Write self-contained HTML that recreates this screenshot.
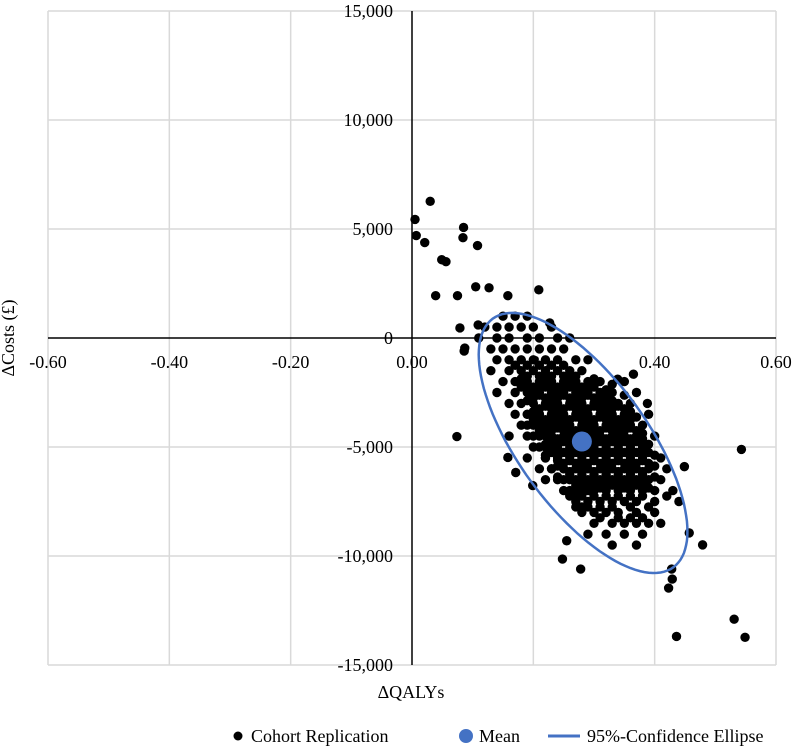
<!DOCTYPE html>
<html><head><meta charset="utf-8">
<style>
html,body{margin:0;padding:0;background:#fff;}
svg{display:block;font-family:"Liberation Serif",serif;}
</style></head>
<body>
<svg id="chart" width="796" height="755" viewBox="0 0 796 755">
<g id="grid"></g>
<g id="axes"></g>
<g id="points"></g>
<g id="overlay"></g>
<text x="14" y="338" font-size="18" text-anchor="middle" transform="rotate(-90 14 338)">ΔCosts (£)</text>
<text x="411" y="698" font-size="18" text-anchor="middle">ΔQALYs</text>
<g>
 <g>
  <circle cx="238" cy="736" r="4.5" fill="#000"/>
  <text x="251" y="742" font-size="18">Cohort Replication</text>
 </g>
 <g>
  <circle cx="466" cy="736" r="7" fill="#4472c4"/>
  <text x="479" y="742" font-size="18">Mean</text>
 </g>
 <g>
  <line x1="548" y1="736" x2="580" y2="736" stroke="#4472c4" stroke-width="3"/>
  <text x="587" y="742" font-size="18">95%-Confidence Ellipse</text>
 </g>
</g>
</svg>
<script>
const xTicks = [-0.6,-0.4,-0.2,0,0.2,0.4,0.6];
const xTickLabels = ["-0.60","-0.40","-0.20","0.00","0.20","0.40","0.60"];
const yTicks = [15000,10000,5000,0,-5000,-10000,-15000];
const yTickLabels = ["15,000","10,000","5,000","0","-5,000","-10,000","-15,000"];
const outlierX = [0.030,0.005,0.007,0.021,0.085,0.084,0.108,0.049,0.056,0.105,0.127,0.039,0.075,0.158,0.209,0.079,0.109,0.087,0.086,0.227,0.074,0.543,0.479,0.457,0.248,0.278,0.428,0.429,0.423,0.531,0.549,0.436,0.255,0.449,0.158,0.171,0.199,0.365,0.339,0.388];
const outlierY = [6270,5440,4700,4380,5070,4600,4240,3590,3500,2350,2300,1940,1940,1940,2210,460,600,-460,-600,690,-4520,-5110,-9490,-8940,-10140,-10600,-10600,-11060,-11470,-12900,-13730,-13690,-9300,-5900,-5480,-6170,-6770,-1660,-1890,-3000];
const coreRowY = [1000,500,0,-500,-1000,-1250,-1500,-1750,-2000,-2250,-2500,-2750,-3000,-3250,-3500,-3750,-4000,-4250,-4500,-4750,-5000,-5250,-5500,-5750,-6000,-6250,-6500,-6750,-7000,-7500,-8000,-8500,-9000,-9500,
 -1875,-2125,-2375,-2625,-2875,-3125,-3375,-3625,-3875,-4125,-4375,-4625,-4875,-5125,-5375,-5625,-5875,-6125,-6375,-6625,-6875,-7250,-7750,-8250,
 -3500,-4000,-4500,-5000,-5500,-6000,-6500,-7000,-7250,-7750];
const coreRowX = [
 [0.15,0.17,0.19],
 [0.12,0.14,0.16,0.18,0.20,0.23],
 [0.11,0.14,0.16,0.19,0.21,0.24,0.26],
 [0.13,0.15,0.17,0.19,0.21,0.23,0.25],
 [0.14,0.16,0.18,0.20,0.22,0.24,0.27,0.29],
 [0.17,0.19,0.21,0.23,0.25],
 [0.13,0.16,0.18,0.20,0.22,0.24,0.26,0.28],
 [0.19,0.21,0.23,0.25,0.27],
 [0.15,0.17,0.19,0.21,0.23,0.25,0.27,0.29,0.31,0.35],
 [0.18,0.20,0.22,0.24,0.26,0.28,0.30],
 [0.14,0.17,0.19,0.21,0.23,0.25,0.27,0.29,0.31,0.33,0.37],
 [0.20,0.22,0.24,0.26,0.28,0.30,0.32],
 [0.16,0.18,0.20,0.22,0.24,0.26,0.28,0.30,0.32,0.34,0.36],
 [0.21,0.23,0.25,0.27,0.29,0.31,0.33,0.35],
 [0.17,0.19,0.21,0.23,0.25,0.27,0.29,0.31,0.33,0.35,0.39],
 [0.20,0.22,0.24,0.26,0.28,0.30,0.32,0.34,0.36],
 [0.18,0.20,0.22,0.24,0.26,0.28,0.30,0.32,0.34,0.36,0.38],
 [0.21,0.23,0.25,0.27,0.29,0.31,0.33,0.35,0.37],
 [0.16,0.19,0.21,0.23,0.25,0.27,0.29,0.31,0.33,0.35,0.37,0.40],
 [0.23,0.25,0.27,0.29,0.31,0.33,0.35,0.37],
 [0.20,0.22,0.24,0.26,0.28,0.30,0.32,0.34,0.36,0.38],
 [0.23,0.25,0.27,0.29,0.31,0.33,0.35,0.37,0.39],
 [0.19,0.22,0.24,0.26,0.28,0.30,0.32,0.34,0.36,0.38,0.41],
 [0.25,0.27,0.29,0.31,0.33,0.35,0.37,0.39],
 [0.21,0.23,0.25,0.27,0.29,0.31,0.33,0.35,0.37,0.39,0.42],
 [0.26,0.28,0.30,0.32,0.34,0.36,0.38],
 [0.22,0.25,0.27,0.29,0.31,0.33,0.35,0.37,0.39,0.41],
 [0.27,0.29,0.31,0.33,0.35,0.37],
 [0.26,0.28,0.30,0.32,0.34,0.36,0.38,0.40,0.43],
 [0.27,0.29,0.31,0.33,0.35,0.37,0.40,0.44],
 [0.28,0.30,0.32,0.34,0.37,0.40],
 [0.30,0.33,0.35,0.37,0.39,0.41],
 [0.29,0.32,0.35,0.38],
 [0.33,0.37],
 [0.18,0.22,0.26,0.30],
 [0.19,0.21,0.23,0.25,0.27,0.29,0.33],
 [0.20,0.24,0.28,0.32],
 [0.21,0.23,0.25,0.27,0.29,0.31,0.35],
 [0.19,0.23,0.27,0.31,0.33],
 [0.22,0.24,0.26,0.28,0.30,0.32,0.34],
 [0.20,0.24,0.28,0.32,0.36],
 [0.23,0.25,0.27,0.29,0.31,0.33,0.35,0.37],
 [0.21,0.25,0.29,0.33,0.35],
 [0.24,0.26,0.28,0.30,0.32,0.34,0.36],
 [0.22,0.26,0.30,0.34,0.38],
 [0.24,0.26,0.28,0.30,0.32,0.34,0.36,0.38],
 [0.22,0.26,0.30,0.34,0.39],
 [0.24,0.26,0.28,0.30,0.32,0.34,0.36,0.38],
 [0.22,0.26,0.30,0.34,0.40],
 [0.24,0.26,0.28,0.30,0.32,0.34,0.36,0.38],
 [0.24,0.28,0.32,0.36,0.40],
 [0.26,0.28,0.30,0.32,0.34,0.36,0.38],
 [0.24,0.28,0.32,0.36,0.40],
 [0.28,0.30,0.32,0.34,0.36,0.38],
 [0.27,0.31,0.35,0.39],
 [0.28,0.30,0.32,0.34,0.36,0.38,0.42],
 [0.29,0.31,0.33,0.36,0.39],
 [0.31,0.34,0.36,0.38],
 [0.19,0.21,0.23],
 [0.19,0.21,0.23],
 [0.20,0.22],
 [0.21,0.23],
 [0.22,0.24],
 [0.23,0.25],
 [0.24,0.26],
 [0.25,0.27,0.29],
 [0.26,0.27],
 [0.27,0.28]
];
const meanX = [0.28];
const meanY = [-4750];
const ellipseCenter = [0.282,-4815];
const ellipseHalf = [0.172,5965];
const ellipseRho = [-0.68];

const NS = "http://www.w3.org/2000/svg";
const L = 48, R = 776, T = 11, B = 665;
function sx(v){ return L + (v + 0.6) / 1.2 * (R - L); }
function sy(v){ return T + (15000 - v) / 30000 * (B - T); }
function mk(tag, attrs, parent){
  const e = document.createElementNS(NS, tag);
  for (const k in attrs) e.setAttribute(k, attrs[k]);
  parent.appendChild(e);
  return e;
}
const grid = document.getElementById('grid');
const axes = document.getElementById('axes');
const pts = document.getElementById('points');
const ov = document.getElementById('overlay');

xTicks.forEach((t,i)=>{
  if (t !== 0) {
    const g = mk('line',{x1:sx(t),x2:sx(t),y1:T,y2:B,stroke:'#d9d9d9','stroke-width':1.5},grid);
    
    
  }
  const tx = mk('text',{x:sx(t),y:sy(0)+30,'font-size':18,'text-anchor':'middle'},axes);
  tx.textContent = xTickLabels[i];
  
  
});
yTicks.forEach((t,i)=>{
  if (t !== 0) {
    const g = mk('line',{x1:L,x2:R,y1:sy(t),y2:sy(t),stroke:'#d9d9d9','stroke-width':1.5},grid);
    
    
  }
  const tx = mk('text',{x:sx(0)-19,y:sy(t)+6,'font-size':18,'text-anchor':'end'},axes);
  tx.textContent = yTickLabels[i];
  
  
});
const xa = mk('line',{x1:L,x2:R,y1:sy(0),y2:sy(0),stroke:'#000','stroke-width':1.5},axes);


const ya = mk('line',{x1:sx(0),x2:sx(0),y1:T,y2:B,stroke:'#000','stroke-width':1.5},axes);



function dot(x,y){
  const c = mk('circle',{cx:sx(x),cy:sy(y),r:4.7,fill:'#000'},pts);
  
  
}
outlierX.forEach((x,i)=>dot(x,outlierY[i]));
coreRowY.forEach((y,i)=>coreRowX[i].forEach(x=>dot(x,y)));

let d = '';
const rho = ellipseRho[0], s = Math.sqrt(1 - rho*rho);
for (let k = 0; k <= 120; k++) {
  const t = k / 120 * 2 * Math.PI;
  const x = ellipseCenter[0] + ellipseHalf[0] * Math.cos(t);
  const y = ellipseCenter[1] + ellipseHalf[1] * (rho * Math.cos(t) + s * Math.sin(t));
  d += (k ? 'L' : 'M') + sx(x).toFixed(1) + ' ' + sy(y).toFixed(1);
}
const el = mk('path',{d:d+'Z',fill:'none',stroke:'#4472c4','stroke-width':2.5},ov);


meanX.forEach((x,i)=>{
  const m = mk('circle',{cx:sx(x),cy:sy(meanY[i]),r:10,fill:'#4472c4'},ov);
  
  
});
</script>
</body></html>
